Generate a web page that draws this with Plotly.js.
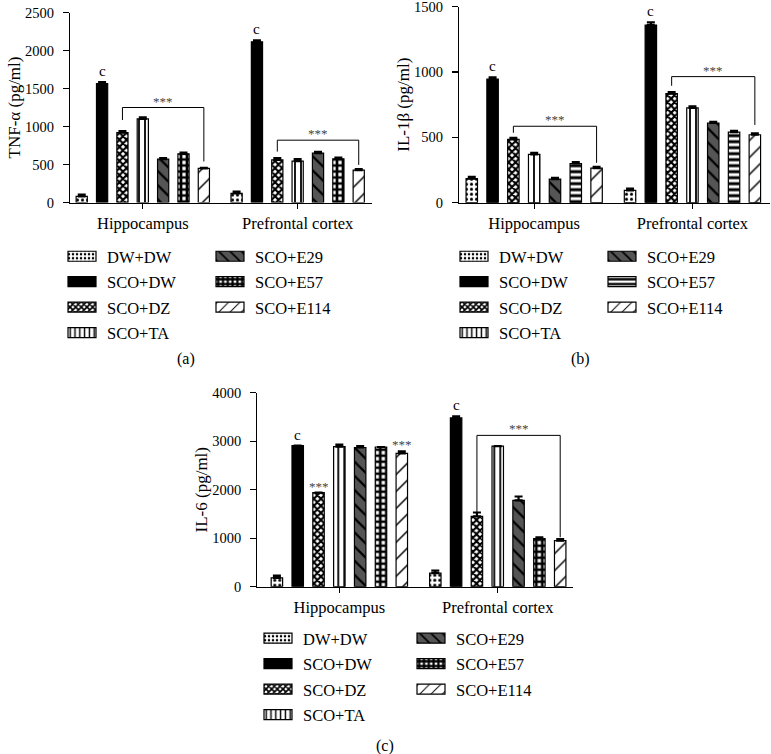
<!DOCTYPE html>
<html><head><meta charset="utf-8">
<script src="https://cdn.plot.ly/plotly-3.0.1.min.js"></script>
<style>html,body{margin:0;padding:0;background:#fff}#chart{width:771px;height:754px}</style>
</head><body><div id="chart"></div>
<script>
// ---------- data ----------
const groups = ['DW+DW','SCO+DW','SCO+DZ','SCO+TA','SCO+E29','SCO+E57','SCO+E114'];
const categories = ['Hippocampus','Prefrontal cortex'];

const tnfHippo    = [80, 1565, 920, 1100, 570, 640, 450];
const tnfHippoErr = [25, 20, 20, 20, 15, 15, 5];
const tnfPfc      = [120, 2115, 560, 545, 650, 575, 425];
const tnfPfcErr   = [25, 20, 25, 25, 15, 15, 15];

const il1bHippo    = [185, 945, 485, 370, 180, 300, 265];
const il1bHippoErr = [12, 15, 12, 12, 10, 10, 10];
const il1bPfc      = [95, 1360, 835, 725, 610, 540, 520];
const il1bPfcErr   = [12, 20, 12, 12, 8, 10, 10];

const il6Hippo    = [180, 2910, 1940, 2890, 2870, 2880, 2750];
const il6HippoErr = [50, 0, 0, 40, 30, 0, 40];
const il6Pfc      = [280, 3480, 1450, 2900, 1780, 990, 950];
const il6PfcErr   = [50, 30, 80, 0, 80, 30, 30];

const yTitles = ['TNF-α (pg/ml)', 'IL-1β (pg/ml)', 'IL-6 (pg/ml)'];
const panelLabels = ['(a)', '(b)', '(c)'];
const sigLetter = 'c';
const stars = '***';

// brackets: [panel, category, fromGroup, toGroup, topValue, leftFoot, rightFoot]
const brackets = [
  [0, 0, 2, 6, 1250, 1085, 540],
  [0, 1, 2, 6, 820, 670, 495],
  [1, 0, 2, 6, 585, 535, 305],
  [1, 1, 2, 6, 965, 895, 595],
  [2, 1, 2, 6, 3120, 1530, 1020]
];
// individual stars: [panel, category, group]
const singleStars = [[2, 0, 2], [2, 0, 6]];

// ---------- layout constants ----------
const FONT = 'Liberation Serif, Times New Roman, serif';
const W = 771, H = 754;
const BARGAP = 0.08, BARGROUPGAP = 0.45;
const slot = (1 - BARGAP) / groups.length;
function barX(cat, i) { return cat + (i - (groups.length - 1) / 2) * slot; }
const px = v => v / W, py = v => 1 - v / H;

const panels = [
  {hip: tnfHippo, hipE: tnfHippoErr, pfc: tnfPfc, pfcE: tnfPfcErr, e57: '+',
   xd: [70, 372], yd: [202.5, 12.5], xr: [-0.47, 1.48], yr: [0, 2500], dt: 500,
   leg: [[67, 239], [215, 239]], label: [186, 359]},
  {hip: il1bHippo, hipE: il1bHippoErr, pfc: il1bPfc, pfcE: il1bPfcErr, e57: '-',
   xd: [459, 770], yd: [202.7, 6.7], xr: [-0.475, 1.49], yr: [0, 1500], dt: 500,
   leg: [[459, 239], [607, 239]], label: [580, 359]},
  {hip: il6Hippo, hipE: il6HippoErr, pfc: il6Pfc, pfcE: il6PfcErr, e57: '+',
   xd: [257.3, 573.3], yd: [586.7, 392.7], xr: [-0.518, 1.477], yr: [0, 4000], dt: 1000,
   leg: [[263, 621], [416, 621]], label: [385, 746]}
];

function styleFor(i, e57) {
  const line = {color: 'black', width: 1.2};
  switch (i) {
    case 0: return {color: 'white', line, pattern: {shape: '.', fgcolor: 'black', bgcolor: 'white', size: 5, solidity: 0.3}};
    case 1: return {color: 'black', line};
    case 2: return {color: 'white', line, pattern: {shape: 'x', fgcolor: 'black', bgcolor: 'white', size: 5, solidity: 0.65}};
    case 3: return {color: 'white', line, pattern: {shape: '|', fgcolor: 'black', bgcolor: 'white', size: 6, solidity: 0.3}};
    case 4: return {color: '#555555', line, pattern: {shape: '\\', fgcolor: 'black', bgcolor: '#555555', size: 10, solidity: 0.22}};
    case 5: return {color: 'white', line, pattern: {shape: e57, fgcolor: 'black', bgcolor: 'white', size: 6, solidity: e57 === '+' ? 0.7 : 0.5}};
    default: return {color: 'white', line, pattern: {shape: '/', fgcolor: 'black', bgcolor: 'white', size: 12, solidity: 0.12}};
  }
}

const traces = [];
const layout = {
  width: W, height: H, margin: {l: 0, r: 0, t: 0, b: 0},
  paper_bgcolor: 'white', plot_bgcolor: 'white',
  barmode: 'group', bargap: BARGAP, bargroupgap: BARGROUPGAP,
  font: {family: FONT, color: 'black', size: 15},
  showlegend: true, annotations: [], shapes: []
};

panels.forEach((p, k) => {
  const sfx = k === 0 ? '' : String(k + 1);
  const legA = k === 0 ? 'legend' : 'legend' + (2 * k + 1);
  const legB = 'legend' + (2 * k + 2);
  groups.forEach((g, i) => {
    traces.push({
      type: 'bar', name: g, x: categories, y: [p.hip[i], p.pfc[i]],
      xaxis: 'x' + sfx, yaxis: 'y' + sfx,
      marker: styleFor(i, p.e57),
      error_y: {type: 'data', symmetric: false, array: [p.hipE[i], p.pfcE[i]], arrayminus: [0, 0],
                color: 'black', thickness: 2.2, width: 4},
      legend: i < 4 ? legA : legB, legendgroup: 'p' + k + 'g' + i,
      hoverinfo: 'skip'
    });
  });
  layout['xaxis' + sfx] = {
    domain: [px(p.xd[0]), px(p.xd[1])], range: p.xr, type: 'category',
    anchor: 'y' + sfx, showline: true, linecolor: 'black', linewidth: 1.2,
    ticks: 'outside', ticklen: 5, tickcolor: 'black', tickwidth: 1.2,
    showgrid: false, zeroline: false, fixedrange: true,
    tickfont: {family: FONT, size: 16.5, color: 'black'}
  };
  layout['yaxis' + sfx] = {
    domain: [py(p.yd[0]), py(p.yd[1])], range: p.yr, dtick: p.dt, tick0: 0,
    anchor: 'x' + sfx, showline: true, linecolor: 'black', linewidth: 1.2,
    ticks: 'outside', ticklen: 6, tickcolor: 'black', tickwidth: 1.2,
    showgrid: false, zeroline: false, fixedrange: true, ticklabelstandoff: 6,
    ticklabeloverflow: 'allow',
    tickfont: {family: FONT, size: 14.5, color: 'black'},
    title: {text: yTitles[k], font: {family: FONT, size: 17, color: 'black'}, standoff: 0}
  };
  [legA, legB].forEach((lg, j) => {
    layout[lg] = {
      x: px(p.leg[j][0]), xanchor: 'left', y: py(p.leg[j][1]), yanchor: 'top',
      bgcolor: 'rgba(0,0,0,0)', borderwidth: 0, traceorder: 'grouped', tracegroupgap: 1,
      itemwidth: 30, font: {family: FONT, size: 16.5, color: 'black'}, itemclick: false, itemdoubleclick: false
    };
  });
  layout.annotations.push({
    xref: 'paper', yref: 'paper', x: px(p.label[0]), y: py(p.label[1]),
    xanchor: 'center', yanchor: 'middle',
    text: panelLabels[k], showarrow: false, font: {family: FONT, size: 16, color: 'black'}
  });
  // significance letter above SCO+DW bars
  [0, 1].forEach(c => {
    const vals = c === 0 ? p.hip : p.pfc, errs = c === 0 ? p.hipE : p.pfcE;
    layout.annotations.push({
      xref: 'x' + sfx, yref: 'y' + sfx, x: barX(c, 1), y: vals[1] + errs[1],
      text: sigLetter, showarrow: false, yanchor: 'bottom', yshift: 1,
      font: {family: FONT, size: 15, color: 'black'}
    });
  });
});

brackets.forEach(([k, c, a, b, top, lf, rf]) => {
  const sfx = k === 0 ? '' : String(k + 1);
  const x1 = barX(c, a), x2 = barX(c, b);
  layout.shapes.push({
    type: 'path', xref: 'x' + sfx, yref: 'y' + sfx,
    path: `M${x1},${lf} L${x1},${top} L${x2},${top} L${x2},${rf}`,
    line: {color: 'black', width: 1}
  });
  layout.annotations.push({
    xref: 'x' + sfx, yref: 'y' + sfx, x: (x1 + x2) / 2, y: top,
    text: stars, showarrow: false, yanchor: 'bottom', yshift: -3,
    font: {family: FONT, size: 13, color: '#444'}
  });
});
singleStars.forEach(([k, c, i]) => {
  const sfx = k === 0 ? '' : String(k + 1);
  const p = panels[k];
  const vals = c === 0 ? p.hip : p.pfc, errs = c === 0 ? p.hipE : p.pfcE;
  layout.annotations.push({
    xref: 'x' + sfx, yref: 'y' + sfx, x: barX(c, i), y: vals[i] + errs[i],
    text: stars, showarrow: false, yanchor: 'bottom', yshift: -3,
    font: {family: FONT, size: 13, color: '#444'}
  });
});

Plotly.newPlot('chart', traces, layout, {staticPlot: true, displayModeBar: false}).then(gd => {
  // widen the legend swatches into the flat rectangles of the original figure
  gd.querySelectorAll('g.legendpoints path').forEach(el => el.setAttribute('d', 'M9,5H-19V-5H9Z'));
});
</script></body></html>
